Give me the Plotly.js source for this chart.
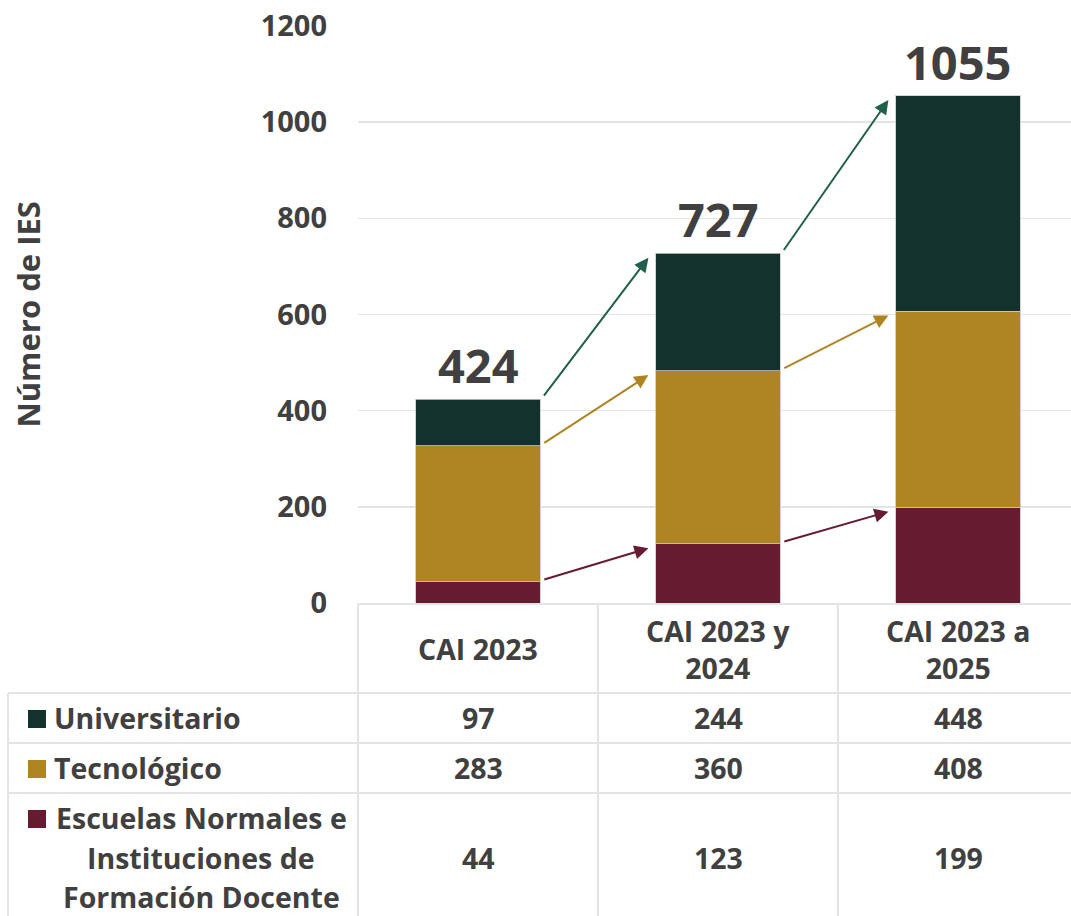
<!DOCTYPE html>
<html>
<head>
<meta charset="utf-8">
<script src="https://cdn.plot.ly/plotly-3.0.1.min.js"></script>
<style>html,body{margin:0;padding:0;background:#fff;}#chart{width:1071px;height:916px;}</style>
</head>
<body>
<div id="chart"></div>
<script>
// ---- data ----
const categories = ['CAI 2023', 'CAI 2023 y<br>2024', 'CAI 2023 a<br>2025'];
const universitario = [97, 244, 448];
const tecnologico = [283, 360, 408];
const escuelas = [44, 123, 199];
const seriesNames = ['Universitario', 'Tecnológico', 'Escuelas Normales e', 'Instituciones de', 'Formación Docente'];
const yTicks = [0, 200, 400, 600, 800, 1000, 1200];

// ---- styles ----
const C_UNI = '#12322b', C_TEC = '#af8422', C_ESC = '#661b31';
const C_UNI_ARROW = '#225e4d';
const TXT = '#404040';
const FONT = 'Open Sans, Noto Sans, DejaVu Sans, sans-serif';
const GRID = '#e4e4e4';

const xs = categories.map((_, i) => i);
const totals = xs.map(i => universitario[i] + tecnologico[i] + escuelas[i]);
const topEsc = escuelas.slice();
const topTec = xs.map(i => escuelas[i] + tecnologico[i]);

// plot area geometry (px)
const L = 358, T = 26, W = 713, H = 577, FIG_W = 1071, FIG_H = 916;
const px = X => (X - L) / W;
const py = Y => (T + H - Y) / H;

const barLine = {color: 'rgba(200,200,200,0.8)', width: 1};
const traces = [
  {type: 'bar', name: 'Escuelas', x: xs, y: escuelas, marker: {color: C_ESC, line: barLine}, hoverinfo: 'y'},
  {type: 'bar', name: 'Tecnológico', x: xs, y: tecnologico, marker: {color: C_TEC, line: barLine}, hoverinfo: 'y'},
  {type: 'bar', name: 'Universitario', x: xs, y: universitario, marker: {color: C_UNI, line: barLine}, hoverinfo: 'y'}
];

const annotations = [];
const shapes = [];

// total labels
xs.forEach(i => {
  annotations.push({x: i, y: totals[i], xref: 'x', yref: 'y', text: String(totals[i]), showarrow: false,
    xanchor: 'center', yanchor: 'bottom', yshift: 0, font: {family: FONT, size: 47, color: TXT, weight: 700}});
});

// arrows between consecutive bars
function arrow(tops, i, color) {
  annotations.push({x: i + 1 - 0.29, y: tops[i + 1] - 9, ax: i + 0.27, ay: tops[i] + 4,
    xref: 'x', yref: 'y', axref: 'x', ayref: 'y', text: '', showarrow: true,
    arrowhead: 2, arrowsize: 1.4, arrowwidth: 2, arrowcolor: color, standoff: 0, startstandoff: 0});
}
for (let i = 0; i < xs.length - 1; i++) {
  arrow(totals, i, C_UNI_ARROW);
  arrow(topTec, i, C_TEC);
  arrow(topEsc, i, C_ESC);
}

// y axis title
annotations.push({x: px(27), y: 0.5, xref: 'paper', yref: 'paper', text: 'Número de IES', textangle: -90,
  xanchor: 'center', yanchor: 'middle', showarrow: false, font: {family: FONT, size: 31, color: TXT, weight: 700}});

// ---- data table ----
const tFont = {family: FONT, size: 28.5, color: TXT, weight: 700};
const lineStyle = {color: GRID, width: 2};
function hline(Y, X0, X1) { shapes.push({type: 'line', xref: 'paper', yref: 'paper', x0: px(X0), x1: px(X1), y0: py(Y), y1: py(Y), line: lineStyle}); }
function vline(X, Y0, Y1) { shapes.push({type: 'line', xref: 'paper', yref: 'paper', x0: px(X), x1: px(X), y0: py(Y0), y1: py(Y1), line: lineStyle}); }
hline(604, L, FIG_W);
hline(693, 8, FIG_W);
hline(743, 8, FIG_W);
hline(793, 8, FIG_W);
vline(8, 693, FIG_H);
vline(L, 604, FIG_H);
[0.5, 1.5].forEach(v => shapes.push({type: 'line', xref: 'x', yref: 'paper', x0: v, x1: v, y0: py(604), y1: py(FIG_H), line: lineStyle}));

// header
xs.forEach(i => annotations.push({x: i, y: py(649), xref: 'x', yref: 'paper', text: categories[i], showarrow: false,
  font: tFont, xanchor: 'center', yanchor: 'middle'}));

// rows
const rows = [
  {vals: universitario, yc: 718},
  {vals: tecnologico, yc: 768},
  {vals: escuelas, yc: 858}
];
rows.forEach(r => xs.forEach(i => annotations.push({x: i, y: py(r.yc), xref: 'x', yref: 'paper', text: String(r.vals[i]),
  showarrow: false, font: tFont, xanchor: 'center', yanchor: 'middle'})));

annotations.push({x: px(52), y: py(718), xref: 'paper', yref: 'paper', text: seriesNames[0], showarrow: false, xanchor: 'left', yanchor: 'middle', font: tFont});
annotations.push({x: px(52), y: py(768), xref: 'paper', yref: 'paper', text: seriesNames[1], showarrow: false, xanchor: 'left', yanchor: 'middle', font: tFont});
annotations.push({x: px(201), y: py(818), xref: 'paper', yref: 'paper', text: seriesNames[2], showarrow: false, xanchor: 'center', yanchor: 'middle', font: tFont});
annotations.push({x: px(201), y: py(858), xref: 'paper', yref: 'paper', text: seriesNames[3], showarrow: false, xanchor: 'center', yanchor: 'middle', font: tFont});
annotations.push({x: px(201), y: py(897), xref: 'paper', yref: 'paper', text: seriesNames[4], showarrow: false, xanchor: 'center', yanchor: 'middle', font: tFont});

// legend keys
[[C_UNI, 719], [C_TEC, 769], [C_ESC, 819]].forEach(([c, Y]) => shapes.push({type: 'rect', xref: 'paper', yref: 'paper',
  x0: px(28), x1: px(46), y0: py(Y - 9), y1: py(Y + 9), fillcolor: c, line: {width: 0}}));

const layout = {
  width: FIG_W, height: FIG_H,
  margin: {l: L, r: FIG_W - L - W, t: T, b: FIG_H - T - H, pad: 0},
  paper_bgcolor: '#fff', plot_bgcolor: '#fff',
  barmode: 'stack', bargap: 0.483, showlegend: false,
  xaxis: {range: [-0.5, -0.5 + W / 240], showticklabels: false, showgrid: false, zeroline: false, showline: false, fixedrange: true},
  yaxis: {range: [0, 1200], tickvals: yTicks, ticktext: yTicks.map(String), showgrid: true, gridcolor: GRID, gridwidth: 1.5,
    zeroline: false, showline: false, ticks: '', ticklabelstandoff: 30,
    tickfont: {family: FONT, size: 29, color: TXT, weight: 700}},
  annotations: annotations, shapes: shapes
};

Plotly.newPlot('chart', traces, layout, {displayModeBar: false, staticPlot: true});
</script>
</body>
</html>
